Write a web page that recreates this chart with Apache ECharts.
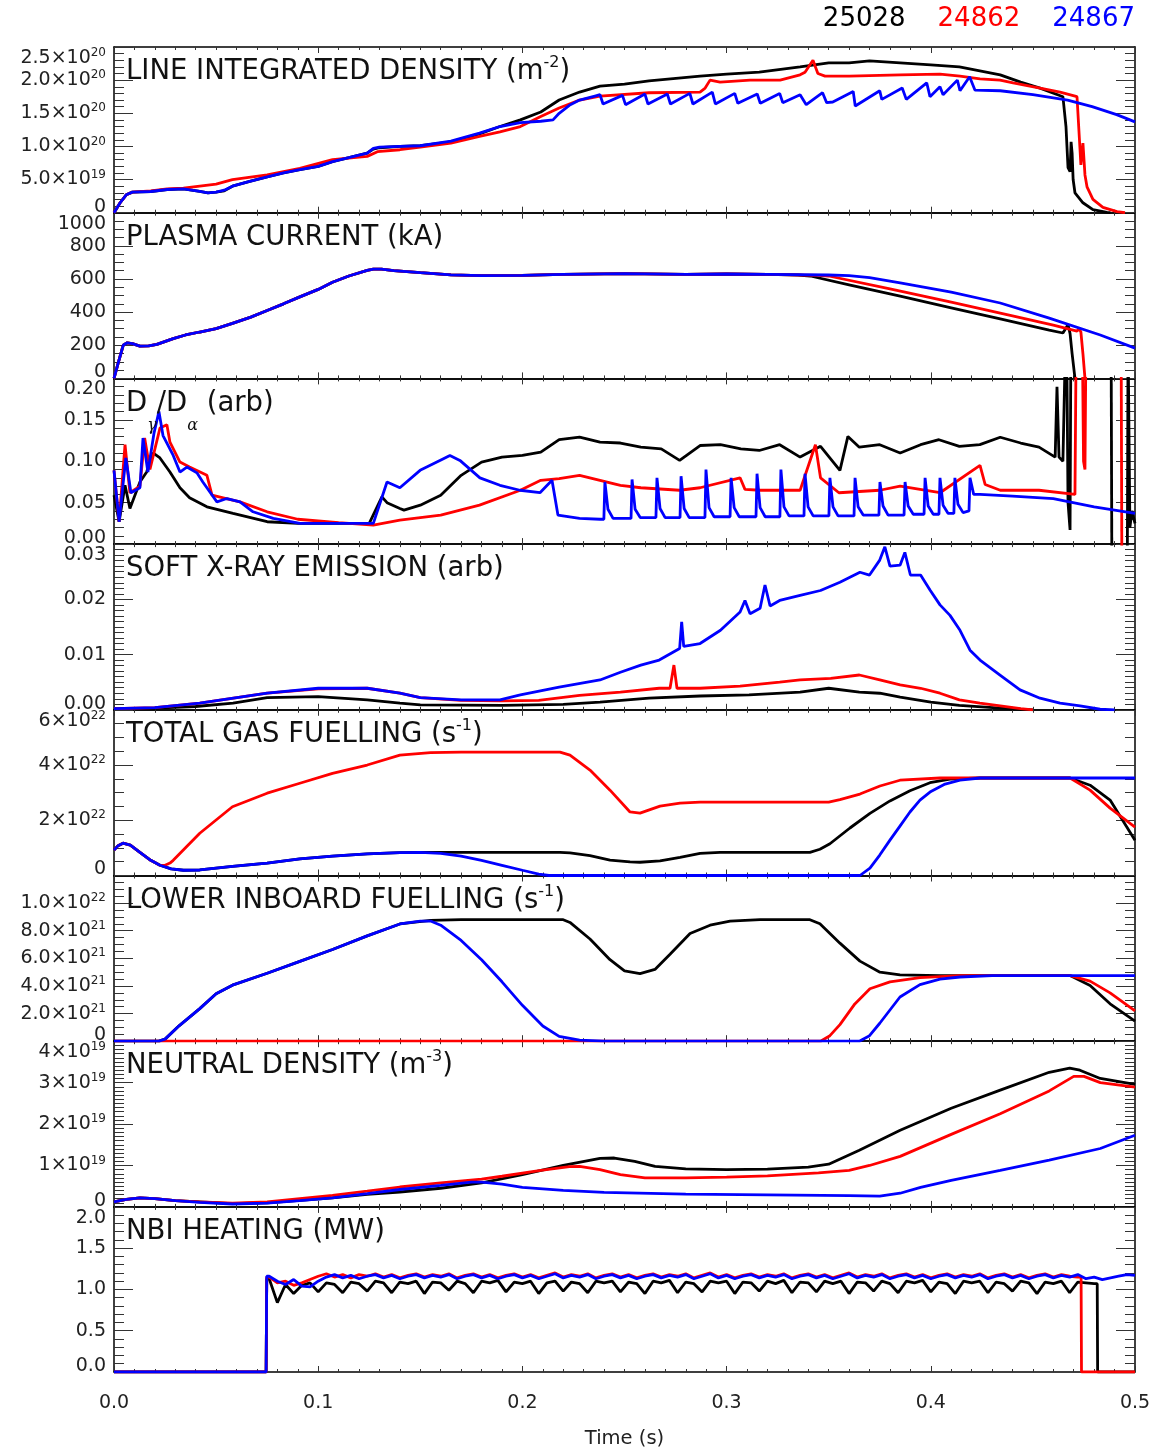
<!DOCTYPE html>
<html>
<head>
<meta charset="utf-8">
<script src="https://cdn.jsdelivr.net/npm/echarts@6/dist/echarts.min.js"></script>
<style>
html, body { margin: 0; padding: 0; background: #ffffff; }
#chart { width: 1155px; height: 1450px; }
</style>
</head>
<body>
<div id="chart"></div>
<script>
// Discharge comparison: shots and their colours
const shots = ['25028', '24862', '24867'];
const shotColors = ['#000000', '#ff0000', '#0000ff'];

// ---------- Line integrated density (1e20 m^-2) ----------
const densityTicks = ['0', '5.0×10^19', '1.0×10^20', '1.5×10^20', '2.0×10^20', '2.5×10^20'];
const densityBlack = [[0,0],[0.003,0.15],[0.006,0.27],[0.009,0.31],[0.018,0.32],[0.026,0.35],[0.034,0.36],[0.042,0.32],[0.046,0.30],[0.05,0.31],[0.054,0.33],[0.058,0.40],[0.066,0.47],[0.075,0.54],[0.083,0.60],[0.091,0.65],[0.1,0.70],[0.107,0.77],[0.115,0.83],[0.124,0.90],[0.127,0.96],[0.13,0.98],[0.14,1.00],[0.15,1.01],[0.165,1.07],[0.179,1.19],[0.189,1.30],[0.199,1.40],[0.209,1.52],[0.218,1.70],[0.228,1.82],[0.238,1.91],[0.25,1.94],[0.262,1.99],[0.287,2.06],[0.3,2.09],[0.316,2.12],[0.336,2.20],[0.35,2.26],[0.36,2.26],[0.37,2.29],[0.385,2.26],[0.4,2.23],[0.414,2.20],[0.424,2.14],[0.434,2.08],[0.444,1.97],[0.4535,1.88],[0.4647,1.75],[0.4662,1.30],[0.4672,0.68],[0.4682,0.62],[0.4687,1.07],[0.4692,0.90],[0.4697,0.50],[0.4706,0.30],[0.4745,0.15],[0.4794,0.045],[0.4863,0.005],[0.488,0]];
const densityRed = [[0,0],[0.003,0.15],[0.006,0.27],[0.009,0.31],[0.018,0.33],[0.026,0.36],[0.034,0.37],[0.042,0.40],[0.05,0.43],[0.058,0.50],[0.075,0.57],[0.091,0.67],[0.107,0.80],[0.124,0.85],[0.129,0.92],[0.14,0.95],[0.15,0.99],[0.165,1.05],[0.179,1.15],[0.189,1.22],[0.199,1.30],[0.209,1.45],[0.218,1.58],[0.228,1.70],[0.238,1.76],[0.262,1.81],[0.287,1.82],[0.2895,1.88],[0.2919,2.00],[0.2968,1.97],[0.3115,2.00],[0.3262,2.00],[0.336,2.08],[0.3384,2.12],[0.3423,2.30],[0.3447,2.10],[0.3482,2.06],[0.36,2.06],[0.385,2.08],[0.4045,2.09],[0.4143,2.06],[0.4241,2.02],[0.4339,2.00],[0.4403,1.96],[0.4535,1.88],[0.4633,1.82],[0.4716,1.75],[0.4728,1.10],[0.4735,0.72],[0.4745,1.05],[0.4755,0.57],[0.4765,0.39],[0.4794,0.20],[0.4843,0.08],[0.4912,0.015],[0.4951,0]];
const densityBlue = [[0,0],[0.003,0.15],[0.006,0.27],[0.009,0.31],[0.018,0.32],[0.026,0.35],[0.034,0.36],[0.042,0.32],[0.046,0.30],[0.05,0.31],[0.054,0.34],[0.058,0.40],[0.066,0.47],[0.075,0.54],[0.083,0.60],[0.091,0.65],[0.1,0.70],[0.107,0.77],[0.115,0.83],[0.124,0.90],[0.127,0.97],[0.13,0.99],[0.14,1.00],[0.15,1.01],[0.165,1.08],[0.179,1.20],[0.189,1.30],[0.199,1.36],[0.209,1.38],[0.215,1.40],[0.218,1.50],[0.223,1.62],[0.228,1.70],[0.2355,1.76],[0.238,1.78],[0.2395,1.64],[0.249,1.77],[0.2505,1.63],[0.26,1.79],[0.2615,1.64],[0.271,1.79],[0.2725,1.64],[0.282,1.80],[0.2835,1.64],[0.293,1.82],[0.2945,1.64],[0.304,1.80],[0.3055,1.65],[0.315,1.79],[0.3165,1.65],[0.326,1.80],[0.3275,1.66],[0.336,1.78],[0.339,1.63],[0.347,1.81],[0.349,1.66],[0.352,1.67],[0.362,1.83],[0.363,1.61],[0.375,1.84],[0.376,1.71],[0.386,1.88],[0.388,1.71],[0.398,1.96],[0.3996,1.75],[0.4045,1.90],[0.406,1.78],[0.413,2.00],[0.4143,1.84],[0.419,2.05],[0.4216,1.85],[0.434,1.84],[0.45,1.78],[0.467,1.70],[0.479,1.60],[0.491,1.48],[0.5,1.37]];

// ---------- Plasma current (kA) ----------
const currentTicks = ['0', '200', '400', '600', '800', '1000'];
const currentBlack = [[0,0],[0.002,90],[0.0045,200],[0.0065,215],[0.009,210],[0.0127,195],[0.017,196],[0.021,205],[0.029,240],[0.035,262],[0.042,280],[0.05,300],[0.058,332],[0.067,370],[0.075,410],[0.083,450],[0.091,492],[0.1,537],[0.107,580],[0.115,618],[0.124,652],[0.127,660],[0.131,660],[0.137,650],[0.15,638],[0.165,625],[0.18,620],[0.2,622],[0.22,628],[0.25,632],[0.28,628],[0.3,630],[0.32,628],[0.335,624],[0.341,618],[0.36,565],[0.385,496],[0.41,426],[0.434,359],[0.458,292],[0.4647,274],[0.466,300],[0.4672,325],[0.4682,270],[0.4692,150],[0.4706,0],[0.4715,0]];
const currentRed = [[0,0],[0.002,90],[0.0045,200],[0.0065,215],[0.009,210],[0.0127,195],[0.017,196],[0.021,205],[0.029,240],[0.035,262],[0.042,280],[0.05,300],[0.058,332],[0.067,370],[0.075,410],[0.083,450],[0.091,492],[0.1,537],[0.107,580],[0.115,618],[0.124,652],[0.127,660],[0.131,660],[0.137,650],[0.15,638],[0.165,625],[0.18,620],[0.2,622],[0.22,628],[0.25,632],[0.28,628],[0.3,630],[0.32,628],[0.345,622],[0.35,618],[0.38,540],[0.41,460],[0.44,378],[0.46,322],[0.4716,285],[0.4726,300],[0.4735,280],[0.4745,150],[0.4755,0],[0.4765,0]];
const currentBlue = [[0,0],[0.002,90],[0.0045,200],[0.0065,215],[0.009,210],[0.0127,195],[0.017,196],[0.021,205],[0.029,240],[0.035,262],[0.042,280],[0.05,300],[0.058,332],[0.067,370],[0.075,410],[0.083,450],[0.091,492],[0.1,537],[0.107,580],[0.115,618],[0.124,652],[0.127,660],[0.131,660],[0.137,650],[0.15,638],[0.165,625],[0.18,620],[0.2,622],[0.22,628],[0.25,632],[0.28,628],[0.3,630],[0.32,628],[0.35,624],[0.36,620],[0.37,608],[0.385,576],[0.41,520],[0.434,455],[0.458,364],[0.483,262],[0.5,183]];

// ---------- D-gamma / D-alpha ratio (arb) ----------
const ratioTicks = ['0.00', '0.05', '0.10', '0.15', '0.20'];
const ratioBlack = [[0,0.059],[0.0025,0.027],[0.0054,0.071],[0.0078,0.043],[0.0127,0.075],[0.016,0.087],[0.0191,0.110],[0.0225,0.104],[0.0274,0.087],[0.0323,0.068],[0.037,0.056],[0.0455,0.045],[0.0583,0.037],[0.075,0.027],[0.09,0.025],[0.125,0.025],[0.1312,0.057],[0.1337,0.050],[0.14,0.043],[0.142,0.041],[0.15,0.047],[0.16,0.059],[0.17,0.083],[0.18,0.099],[0.19,0.105],[0.2,0.107],[0.209,0.111],[0.218,0.126],[0.228,0.129],[0.238,0.123],[0.248,0.122],[0.258,0.117],[0.268,0.115],[0.277,0.101],[0.287,0.119],[0.297,0.120],[0.307,0.115],[0.316,0.113],[0.326,0.120],[0.336,0.105],[0.346,0.118],[0.3555,0.089],[0.3594,0.130],[0.365,0.117],[0.375,0.120],[0.385,0.110],[0.395,0.120],[0.404,0.126],[0.414,0.118],[0.424,0.120],[0.434,0.129],[0.444,0.122],[0.453,0.117],[0.4609,0.105],[0.4618,0.190],[0.4628,0.105],[0.4647,0.100],[0.4657,0.215],[0.4667,0.200],[0.4672,0.050],[0.4682,0.017],[0.4686,0.25]];
// after the disruption the signals leave the plotted range; the excursions that cross it
const ratioBlackTailA = [[0.4883,0.25],[0.4887,-0.05]];
const ratioBlackTailB = [[0.4962,-0.05],[0.4966,0.25],[0.4975,0.02],[0.4985,0.04],[0.5,0.025]];
const ratioRed = [[0,0.089],[0.0025,0.027],[0.0054,0.120],[0.0078,0.062],[0.0127,0.070],[0.015,0.128],[0.0176,0.090],[0.0225,0.140],[0.0259,0.144],[0.0274,0.123],[0.0323,0.099],[0.037,0.093],[0.0455,0.083],[0.048,0.059],[0.055,0.055],[0.0617,0.051],[0.075,0.039],[0.09,0.030],[0.11,0.026],[0.127,0.023],[0.14,0.029],[0.16,0.035],[0.179,0.047],[0.199,0.065],[0.209,0.077],[0.218,0.079],[0.228,0.083],[0.238,0.077],[0.248,0.071],[0.258,0.068],[0.277,0.065],[0.287,0.068],[0.3066,0.080],[0.309,0.066],[0.3164,0.065],[0.336,0.065],[0.3435,0.120],[0.346,0.080],[0.355,0.062],[0.375,0.065],[0.385,0.070],[0.4045,0.062],[0.4241,0.095],[0.4266,0.072],[0.434,0.065],[0.453,0.065],[0.4706,0.060],[0.4712,0.25]];
const ratioRedTailA = [[0.4742,0.25],[0.4748,0.10],[0.4755,0.09],[0.476,0.25]];
const ratioRedTailB = [[0.4932,0.25],[0.4936,-0.05]];
const ratioBlue = [[0,0.089],[0.0025,0.027],[0.0058,0.104],[0.0083,0.062],[0.0127,0.068],[0.0142,0.128],[0.0166,0.087],[0.0196,0.134],[0.022,0.160],[0.024,0.131],[0.029,0.107],[0.0323,0.087],[0.0357,0.093],[0.0406,0.086],[0.0435,0.075],[0.0504,0.051],[0.0553,0.055],[0.0617,0.051],[0.0681,0.039],[0.078,0.031],[0.0911,0.025],[0.127,0.025],[0.1337,0.075],[0.14,0.068],[0.1499,0.089],[0.1596,0.101],[0.1645,0.107],[0.1694,0.101],[0.1792,0.080],[0.189,0.071],[0.1988,0.065],[0.2086,0.062],[0.2145,0.077],[0.2174,0.035],[0.228,0.031],[0.238,0.030],
  [0.2399,0.030],[0.2404,0.075],[0.2419,0.042],[0.2444,0.031],
  [0.2532,0.031],[0.2537,0.078],[0.2552,0.042],[0.2577,0.032],
  [0.2654,0.032],[0.2659,0.080],[0.2674,0.043],[0.2699,0.032],
  [0.2772,0.032],[0.2777,0.082],[0.2792,0.043],[0.2817,0.032],
  [0.2894,0.032],[0.2899,0.090],[0.2914,0.044],[0.2939,0.033],
  [0.3017,0.033],[0.3022,0.080],[0.3037,0.044],[0.3062,0.033],
  [0.3144,0.033],[0.3149,0.085],[0.3164,0.044],[0.3189,0.033],
  [0.3261,0.033],[0.3266,0.090],[0.3281,0.045],[0.3306,0.034],
  [0.3379,0.034],[0.3384,0.085],[0.3399,0.045],[0.3424,0.034],
  [0.3501,0.034],[0.3506,0.080],[0.3521,0.045],[0.3546,0.034],
  [0.3624,0.034],[0.3629,0.080],[0.3644,0.045],[0.3669,0.035],
  [0.3746,0.035],[0.3751,0.075],[0.3766,0.046],[0.3791,0.035],
  [0.3869,0.035],[0.3874,0.075],[0.3889,0.046],[0.3914,0.036],
  [0.3967,0.036],[0.3972,0.080],[0.3987,0.046],[0.4012,0.036],
  [0.4040,0.036],[0.4045,0.080],[0.4060,0.047],[0.4085,0.037],
  [0.4113,0.037],[0.4118,0.080],[0.4133,0.048],[0.4158,0.038],
  [0.4187,0.040],[0.4192,0.080],[0.4210,0.060],
  [0.4241,0.060],[0.44,0.058],[0.46,0.055],[0.48,0.045],[0.5,0.037]];

// ---------- Soft X-ray emission (arb) ----------
const sxrTicks = ['0.00', '0.01', '0.02', '0.03'];
const sxrBlack = [[0,0.0002],[0.02,0.0003],[0.04,0.0006],[0.0583,0.0012],[0.075,0.0022],[0.1,0.0024],[0.124,0.0018],[0.14,0.0012],[0.15,0.0009],[0.19,0.0008],[0.22,0.0010],[0.238,0.0014],[0.262,0.0021],[0.287,0.0025],[0.311,0.0027],[0.336,0.0032],[0.35,0.0039],[0.365,0.0032],[0.375,0.0030],[0.385,0.0023],[0.4,0.0014],[0.414,0.0008],[0.434,0.0003],[0.444,0.0001],[0.45,0]];
const sxrRed = [[0,0.0002],[0.02,0.0004],[0.042,0.0012],[0.075,0.0030],[0.1,0.0038],[0.124,0.0039],[0.14,0.0030],[0.15,0.0022],[0.17,0.0017],[0.19,0.0016],[0.208,0.0017],[0.228,0.0026],[0.248,0.0032],[0.267,0.0039],[0.2723,0.0039],[0.2742,0.0081],[0.2757,0.0039],[0.287,0.0039],[0.3066,0.0043],[0.326,0.0050],[0.336,0.0054],[0.351,0.0057],[0.365,0.0063],[0.375,0.0054],[0.385,0.0045],[0.395,0.0039],[0.4045,0.0030],[0.414,0.0018],[0.424,0.0012],[0.434,0.0007],[0.444,0.0002],[0.45,0]];
const sxrBlue = [[0,0.0002],[0.02,0.0004],[0.042,0.0012],[0.075,0.0030],[0.1,0.0039],[0.124,0.0039],[0.14,0.0030],[0.15,0.0022],[0.17,0.0018],[0.189,0.0018],[0.199,0.0027],[0.218,0.0041],[0.238,0.0054],[0.248,0.0068],[0.258,0.0081],[0.267,0.0090],[0.277,0.0111],[0.278,0.0159],[0.279,0.0115],[0.287,0.0120],[0.297,0.0144],[0.3066,0.0177],[0.309,0.0198],[0.3115,0.0174],[0.3164,0.0184],[0.3188,0.0226],[0.3213,0.0188],[0.326,0.0198],[0.336,0.0207],[0.346,0.0216],[0.3555,0.0231],[0.3653,0.0249],[0.37,0.0244],[0.375,0.0271],[0.3775,0.0295],[0.38,0.0260],[0.385,0.0262],[0.3873,0.0285],[0.39,0.0244],[0.395,0.0244],[0.3996,0.0217],[0.4045,0.0190],[0.4094,0.0171],[0.4143,0.0144],[0.4192,0.0108],[0.4241,0.0090],[0.4339,0.0063],[0.4437,0.0036],[0.4535,0.0021],[0.4633,0.0012],[0.4731,0.0007],[0.4829,0.0001],[0.49,0]];

// ---------- Total gas fuelling (1e22 s^-1) ----------
const gasTicks = ['0', '2×10^22', '4×10^22', '6×10^22'];
const gasBlack = [[0,0.92],[0.002,1.08],[0.0044,1.17],[0.008,1.10],[0.0127,0.84],[0.018,0.55],[0.0225,0.37],[0.028,0.24],[0.034,0.19],[0.042,0.20],[0.058,0.33],[0.075,0.45],[0.091,0.60],[0.107,0.70],[0.124,0.78],[0.14,0.83],[0.15,0.84],[0.2184,0.84],[0.2233,0.82],[0.2331,0.72],[0.2429,0.56],[0.2527,0.49],[0.2576,0.48],[0.2674,0.53],[0.2772,0.66],[0.287,0.80],[0.2968,0.84],[0.3408,0.84],[0.3457,0.95],[0.3506,1.15],[0.3604,1.72],[0.3702,2.25],[0.38,2.70],[0.3898,3.07],[0.3996,3.36],[0.4094,3.49],[0.4241,3.53],[0.4682,3.53],[0.478,3.27],[0.4878,2.73],[0.5,1.28]];
const gasRed = [[0,0.92],[0.002,1.08],[0.0044,1.17],[0.008,1.10],[0.0127,0.84],[0.018,0.55],[0.0225,0.37],[0.025,0.37],[0.0274,0.45],[0.029,0.55],[0.042,1.53],[0.058,2.49],[0.075,2.98],[0.091,3.34],[0.107,3.70],[0.124,4.00],[0.14,4.36],[0.155,4.45],[0.17,4.47],[0.2184,4.47],[0.2233,4.36],[0.2331,3.82],[0.2429,3.09],[0.2527,2.30],[0.2576,2.26],[0.2674,2.51],[0.2772,2.62],[0.287,2.66],[0.35,2.66],[0.3555,2.75],[0.3653,2.95],[0.3751,3.24],[0.3849,3.45],[0.4045,3.53],[0.4682,3.53],[0.478,3.09],[0.4878,2.44],[0.5,1.75]];
const gasBlue = [[0,0.92],[0.002,1.08],[0.0044,1.17],[0.008,1.10],[0.0127,0.84],[0.018,0.55],[0.0225,0.37],[0.028,0.24],[0.034,0.19],[0.042,0.20],[0.058,0.33],[0.075,0.45],[0.091,0.60],[0.107,0.70],[0.124,0.78],[0.14,0.83],[0.15,0.84],[0.16,0.80],[0.17,0.70],[0.18,0.55],[0.19,0.37],[0.2,0.19],[0.208,0.05],[0.213,0],[0.3653,0],[0.3702,0.27],[0.375,0.74],[0.38,1.28],[0.3849,1.79],[0.3898,2.30],[0.3947,2.73],[0.3996,3.02],[0.407,3.31],[0.4143,3.45],[0.4241,3.53],[0.5,3.53]];

// ---------- Lower inboard fuelling (1e21 s^-1) ----------
const lowerTicks = ['0', '2.0×10^21', '4.0×10^21', '6.0×10^21', '8.0×10^21', '1.0×10^22', '1.2×10^22'];
const lowerBlack = [[0,0],[0.022,0],[0.025,0.15],[0.032,1.13],[0.042,2.36],[0.05,3.44],[0.058,4.06],[0.075,4.92],[0.091,5.78],[0.107,6.64],[0.124,7.63],[0.14,8.49],[0.155,8.75],[0.17,8.80],[0.22,8.80],[0.2233,8.60],[0.2331,7.40],[0.2429,5.90],[0.25,5.10],[0.2576,4.90],[0.2649,5.20],[0.2723,6.30],[0.2821,7.80],[0.2919,8.40],[0.3017,8.70],[0.3164,8.80],[0.3408,8.80],[0.3457,8.50],[0.3555,7.10],[0.3653,5.80],[0.3751,5.00],[0.3849,4.80],[0.4045,4.75],[0.4682,4.75],[0.478,4.04],[0.4878,2.71],[0.5,1.45]];
const lowerRed = [[0,0],[0.346,0],[0.3506,0.40],[0.3555,1.20],[0.3628,2.70],[0.3702,3.80],[0.38,4.30],[0.3947,4.60],[0.4143,4.75],[0.4682,4.75],[0.478,4.35],[0.4878,3.50],[0.5,2.20]];
const lowerBlue = [[0,0],[0.022,0],[0.025,0.15],[0.032,1.13],[0.042,2.36],[0.05,3.44],[0.058,4.06],[0.075,4.92],[0.091,5.78],[0.107,6.64],[0.124,7.63],[0.14,8.49],[0.15,8.70],[0.155,8.70],[0.16,8.40],[0.17,7.30],[0.18,5.90],[0.19,4.30],[0.2,2.60],[0.21,1.10],[0.218,0.35],[0.228,0.08],[0.24,0],[0.365,0],[0.37,0.40],[0.375,1.30],[0.3849,3.20],[0.3947,4.10],[0.4045,4.50],[0.4143,4.65],[0.43,4.75],[0.5,4.75]];

// ---------- Neutral density (1e19 m^-3) ----------
const neutralTicks = ['0', '1×10^19', '2×10^19', '3×10^19', '4×10^19'];
const neutralBlack = [[0,0.12],[0.006,0.18],[0.0127,0.22],[0.02,0.20],[0.03,0.15],[0.042,0.12],[0.058,0.08],[0.075,0.10],[0.091,0.16],[0.107,0.22],[0.124,0.30],[0.14,0.36],[0.16,0.45],[0.18,0.58],[0.2,0.78],[0.22,1.00],[0.238,1.17],[0.245,1.18],[0.255,1.10],[0.265,0.98],[0.28,0.92],[0.3,0.90],[0.32,0.91],[0.34,0.96],[0.35,1.03],[0.365,1.37],[0.385,1.85],[0.41,2.38],[0.434,2.82],[0.458,3.25],[0.468,3.35],[0.473,3.30],[0.483,3.10],[0.5,2.96]];
const neutralRed = [[0,0.12],[0.006,0.18],[0.0127,0.22],[0.02,0.20],[0.03,0.15],[0.042,0.12],[0.058,0.09],[0.075,0.12],[0.091,0.20],[0.107,0.28],[0.124,0.38],[0.14,0.48],[0.16,0.58],[0.18,0.67],[0.19,0.74],[0.209,0.88],[0.223,0.97],[0.228,0.98],[0.238,0.90],[0.248,0.78],[0.26,0.70],[0.28,0.70],[0.3,0.72],[0.32,0.75],[0.345,0.82],[0.36,0.88],[0.37,1.00],[0.385,1.22],[0.41,1.75],[0.434,2.25],[0.458,2.80],[0.47,3.15],[0.475,3.15],[0.483,3.00],[0.5,2.89]];
const neutralBlue = [[0,0.12],[0.006,0.18],[0.0127,0.22],[0.02,0.20],[0.03,0.15],[0.042,0.11],[0.058,0.07],[0.075,0.09],[0.091,0.15],[0.107,0.22],[0.124,0.32],[0.14,0.42],[0.16,0.52],[0.175,0.60],[0.18,0.60],[0.19,0.55],[0.2,0.47],[0.22,0.40],[0.24,0.35],[0.28,0.31],[0.32,0.29],[0.36,0.27],[0.375,0.26],[0.385,0.33],[0.395,0.47],[0.41,0.64],[0.434,0.88],[0.458,1.13],[0.483,1.41],[0.5,1.73]];

// ---------- NBI heating (MW): beam on/off times and samples every 4 ms ----------
const nbiTicks = ['0.0', '0.5', '1.0', '1.5', '2.0'];
const nbiSampleStart = 0.076, nbiSampleStep = 0.004;
const nbiOnTime = 0.0748;
const nbiBlackOff = 0.4817, nbiRedOff = 0.4738;
const nbiBlack = [1.13,0.84,1.06,0.95,1.05,1.08,0.97,1.08,1.06,0.96,
  1.09,1.07,0.98,1.10,1.08,0.96,1.09,1.07,1.10,0.95,
  1.09,1.08,0.99,1.10,1.07,0.96,1.10,1.08,1.11,0.97,
  1.09,1.07,1.10,0.95,1.08,1.10,0.98,1.09,1.07,0.96,
  1.10,1.08,1.10,0.97,1.09,1.07,0.95,1.10,1.08,1.11,
  0.96,1.09,1.07,0.97,1.10,1.08,1.10,0.95,1.09,1.08,
  0.98,1.10,1.07,1.11,0.96,1.09,1.08,0.97,1.10,1.07,
  1.10,0.95,1.09,1.08,0.98,1.10,1.07,0.96,1.10,1.08,
  1.11,0.97,1.09,1.07,0.95,1.10,1.08,1.10,0.96,1.09,
  1.07,0.98,1.10,1.08,0.95,1.09,1.07,1.10,0.96,1.09,
  1.08,1.07];
const nbiRed = [1.15,1.08,1.10,1.05,1.08,1.12,1.16,1.19,1.15,1.18,
  1.14,1.18,1.16,1.19,1.15,1.18,1.14,1.17,1.19,1.15,
  1.18,1.16,1.19,1.14,1.17,1.19,1.15,1.18,1.14,1.17,
  1.19,1.15,1.18,1.14,1.17,1.20,1.15,1.18,1.16,1.19,
  1.14,1.17,1.19,1.15,1.18,1.14,1.17,1.19,1.15,1.18,
  1.16,1.19,1.14,1.17,1.20,1.15,1.18,1.14,1.17,1.19,
  1.15,1.18,1.16,1.19,1.14,1.17,1.19,1.15,1.18,1.14,
  1.17,1.20,1.15,1.18,1.16,1.19,1.14,1.17,1.19,1.15,
  1.18,1.14,1.17,1.19,1.15,1.18,1.16,1.19,1.14,1.17,
  1.19,1.15,1.18,1.14,1.17,1.19,1.15,1.18,1.16,1.15];
const nbiBlue = [1.16,1.10,1.06,1.12,1.04,1.03,1.10,1.15,1.18,1.14,
  1.17,1.13,1.16,1.18,1.14,1.17,1.13,1.16,1.18,1.14,
  1.17,1.15,1.18,1.13,1.16,1.18,1.14,1.17,1.13,1.16,
  1.18,1.14,1.17,1.13,1.16,1.19,1.14,1.17,1.15,1.18,
  1.13,1.16,1.18,1.14,1.17,1.13,1.16,1.18,1.14,1.17,
  1.15,1.18,1.13,1.16,1.19,1.14,1.17,1.13,1.16,1.18,
  1.14,1.17,1.15,1.18,1.13,1.16,1.18,1.14,1.17,1.13,
  1.16,1.19,1.14,1.17,1.15,1.18,1.13,1.16,1.18,1.14,
  1.17,1.13,1.16,1.18,1.14,1.17,1.15,1.18,1.13,1.16,
  1.18,1.14,1.17,1.13,1.16,1.18,1.14,1.17,1.15,1.18,
  1.13,1.15,1.12,1.14,1.16,1.18,1.17];

// Time axis
const timeTicks = ['0.0', '0.1', '0.2', '0.3', '0.4', '0.5'];

// Sampled beam power -> [t, P] pairs with the switch-on / switch-off edges
function beamTrace(samples, offTime) {
  const pts = [[0, 0], [nbiOnTime - 0.0003, 0], [nbiOnTime, samples[0]]];
  samples.forEach(function (v, i) {
    const t = nbiSampleStart + i * nbiSampleStep;
    if (offTime === null || t < offTime) pts.push([t, v]);
  });
  if (offTime !== null) {
    pts.push([offTime - 0.0002, pts[pts.length - 1][1]]);
    pts.push([offTime, 0]);
    pts.push([0.5, 0]);
  }
  return pts;
}

// ---------- layout ----------
const FONT = 'DejaVu Sans';
const GRID_LEFT = 114, GRID_WIDTH = 1021, GRID_TOP = 47, PANEL_H = 165.7;

// each shot entry is a list of trace segments
const panels = [
  { title: '{t|LINE INTEGRATED DENSITY (m}{s|-2}{t|)}', max: 2.5, interval: 0.5, minor: 5, ticks: densityTicks, lines: [[densityBlack], [densityRed], [densityBlue]] },
  { title: '{t|PLASMA CURRENT (kA)}', max: 1000, interval: 200, minor: 4, ticks: currentTicks, lines: [[currentBlack], [currentRed], [currentBlue]] },
  { title: '{u|D}{g|γ}{u|/D}{g|α}{u| (arb)}', max: 0.2, interval: 0.05, minor: 5, ticks: ratioTicks, lines: [[ratioBlack, ratioBlackTailA, ratioBlackTailB], [ratioRed, ratioRedTailA, ratioRedTailB], [ratioBlue]], tall: true },
  { title: '{t|SOFT X-RAY EMISSION (arb)}', max: 0.03, interval: 0.01, minor: 10, ticks: sxrTicks, lines: [[sxrBlack], [sxrRed], [sxrBlue]] },
  { title: '{t|TOTAL GAS FUELLING (s}{s|-1}{t|)}', max: 6, interval: 2, minor: 4, ticks: gasTicks, lines: [[gasBlack], [gasRed], [gasBlue]] },
  { title: '{t|LOWER INBOARD FUELLING (s}{s|-1}{t|)}', max: 12, interval: 2, minor: 4, ticks: lowerTicks, lines: [[lowerBlack], [lowerRed], [lowerBlue]] },
  { title: '{t|NEUTRAL DENSITY (m}{s|-3}{t|)}', max: 4, interval: 1, minor: 10, ticks: neutralTicks, lines: [[neutralBlack], [neutralRed], [neutralBlue]] },
  { title: '{t|NBI HEATING (MW)}', max: 2, interval: 0.5, minor: 5, ticks: nbiTicks, lines: [[beamTrace(nbiBlack, nbiBlackOff)], [beamTrace(nbiRed, nbiRedOff)], [beamTrace(nbiBlue, null)]] }
];

// Tick label text -> rich text; "a^b" becomes a with superscript b, the zero label gets a compact box
function richTick(labels, interval) {
  return function (v) {
    const i = Math.round(v / interval);
    const s = labels[i];
    if (s === undefined) return '';
    if (i === 0) return '{z|' + s + '}';
    const k = s.indexOf('^');
    return k < 0 ? '{m|' + s + '}' : '{m|' + s.slice(0, k) + '}{e|' + s.slice(k + 1) + '}';
  };
}

const tickRich = {
  m: { fontFamily: FONT, fontSize: 19, color: '#222', lineHeight: 22 },
  z: { fontFamily: FONT, fontSize: 19, color: '#222', lineHeight: 12 },
  e: { fontFamily: FONT, fontSize: 12, color: '#222', lineHeight: 10, verticalAlign: 'top' }
};
const titleRich = {
  t: { fontFamily: FONT, fontWeight: 'normal', fontSize: 27.5, color: '#111', lineHeight: 34 },
  s: { fontFamily: FONT, fontWeight: 'normal', fontSize: 16, color: '#111', lineHeight: 14, verticalAlign: 'top' },
  u: { fontFamily: FONT, fontWeight: 'normal', fontSize: 27.5, color: '#111', lineHeight: 60 },
  g: { fontFamily: 'DejaVu Serif', fontWeight: 'normal', fontStyle: 'italic', fontSize: 16, color: '#111', lineHeight: 16, verticalAlign: 'bottom' }
};

const axisLineStyle = { color: '#000', width: 1.5 };
const tickStyle = { color: '#333', width: 1 };

const grids = [], xAxes = [], yAxes = [], series = [], titles = [];

panels.forEach(function (p, i) {
  const top = GRID_TOP + i * PANEL_H;
  grids.push({ left: GRID_LEFT, width: GRID_WIDTH, top: top, height: PANEL_H });
  const last = i === panels.length - 1;
  ['bottom', 'top'].forEach(function (pos) {
    xAxes.push({
      gridIndex: i, type: 'value', position: pos, min: 0, max: 0.5, interval: 0.1,
      axisLine: { show: true, onZero: false, lineStyle: axisLineStyle },
      axisTick: { show: true, inside: true, length: 6, lineStyle: tickStyle },
      minorTick: { show: true, splitNumber: 10, length: 3, lineStyle: tickStyle },
      splitLine: { show: false },
      axisLabel: (last && pos === 'bottom') ? {
        show: true, margin: 22, fontFamily: FONT, fontSize: 19, color: '#222',
        formatter: function (v) { return timeTicks[Math.round(v / 0.1)] || ''; }
      } : { show: false },
      name: (last && pos === 'bottom') ? 'Time (s)' : '',
      nameLocation: 'middle', nameGap: 57,
      nameTextStyle: { fontFamily: FONT, fontSize: 19.5, color: '#222' }
    });
  });
  ['left', 'right'].forEach(function (pos) {
    yAxes.push({
      gridIndex: i, type: 'value', position: pos, min: 0, max: p.max, interval: p.interval,
      axisLine: { show: true, onZero: false, lineStyle: axisLineStyle },
      axisTick: { show: true, inside: true, length: 19, lineStyle: tickStyle },
      minorTick: { show: true, splitNumber: p.minor, length: 10, lineStyle: tickStyle },
      splitLine: { show: false },
      axisLabel: pos === 'left' ? {
        show: true, margin: 8, formatter: richTick(p.ticks, p.interval), rich: tickRich,
        verticalAlignMinLabel: 'bottom', verticalAlignMaxLabel: 'top'
      } : { show: false }
    });
  });
  titles.push({
    text: p.title, left: 126, top: p.tall ? top - 5 : top + 8, padding: 0,
    textStyle: { fontWeight: 'normal', rich: titleRich }
  });
  p.lines.forEach(function (segments, k) {
    segments.forEach(function (pts) {
      series.push({
        name: shots[k], type: 'line', xAxisIndex: 2 * i, yAxisIndex: 2 * i,
        data: pts, showSymbol: false, symbol: 'none', clip: true,
        lineStyle: { color: shotColors[k], width: 2.8 },
        itemStyle: { color: shotColors[k] }
      });
    });
  });
});

const chart = echarts.init(document.getElementById('chart'), null, { renderer: 'canvas' });
chart.setOption({
  animation: false,
  backgroundColor: '#ffffff',
  title: titles,
  legend: {
    right: 20, top: 6, padding: 0, itemWidth: 0, itemHeight: 0, itemGap: 27, icon: 'none',
    selectedMode: false,
    textStyle: { fontFamily: FONT, fontSize: 26, fontWeight: 'normal' },
    data: shots.map(function (s, k) { return { name: s, textStyle: { color: shotColors[k] } }; })
  },
  grid: grids,
  xAxis: xAxes,
  yAxis: yAxes,
  series: series
});
</script>
</body>
</html>
